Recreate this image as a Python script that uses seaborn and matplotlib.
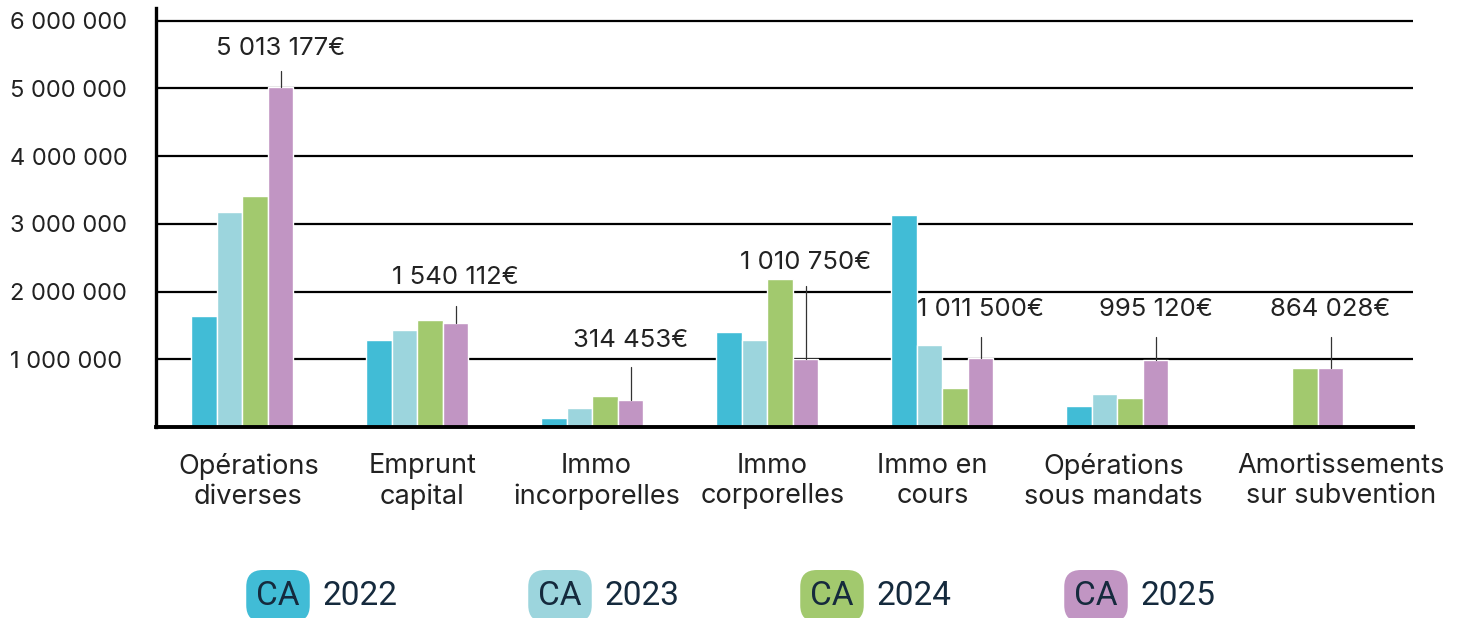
import numpy as np
import pandas as pd
import matplotlib
matplotlib.use("Agg")
import matplotlib.pyplot as plt
import matplotlib.transforms as mtransforms
import seaborn as sns

# ---------------- data ----------------
categories = ["Opérations\ndiverses", "Emprunt\ncapital", "Immo\nincorporelles",
              "Immo\ncorporelles", "Immo en\ncours", "Opérations\nsous mandats",
              "Amortissements\nsur subvention"]
years = ["2022", "2023", "2024", "2025"]
ca_2022 = [1640000, 1285000, 135000, 1400000, 3130000, 310000, 0]
ca_2023 = [3170000, 1430000, 280000, 1280000, 1210000, 487000, 0]
ca_2024 = [3410000, 1580000, 455000, 2180000, 575000, 430000, 864028]
ca_2025 = [5013177, 1540112, 400000, 1010750, 1011500, 995120, 864028]
labels_2025 = ["5 013 177€", "1 540 112€", "314 453€", "1 010 750€",
               "1 011 500€", "995 120€", "864 028€"]
yticks = [1000000, 2000000, 3000000, 4000000, 5000000, 6000000]

# layout for annotations (leader-line top and label centre, in data units)
line_top = [5250000, 1780000, 885000, 2080000, 1330000, 1330000, 1330000]
label_y = [5590000, 2210000, 1280000, 2430000, 1730000, 1730000, 1730000]
# horizontal nudges of the category labels (pixels)
label_shift = [6, 5, 4, 5, -10, -4, 49]

colors = ["#41BCD6", "#9CD5DD", "#A2C96E", "#C195C3"]
text_dark = "#152A3D"

df = pd.DataFrame({
    "cat": categories * 4,
    "year": sum([[y] * len(categories) for y in years], []),
    "val": ca_2022 + ca_2023 + ca_2024 + ca_2025,
})

sns.set_theme(style="white")
plt.rcParams["font.family"] = ["Inter", "DejaVu Sans"]

fig = plt.figure(figsize=(14.62, 6.18), dpi=100)
ax = fig.add_axes([156 / 1462, 1 - 427 / 618, (1413 - 156) / 1462, (427 - 8) / 618])

sns.barplot(data=df, x="cat", y="val", hue="year", order=categories,
            hue_order=years, palette=colors, width=0.583, dodge=True,
            edgecolor="white", linewidth=1.0, legend=False, ax=ax,
            saturation=1, errorbar=None, zorder=3)

ax.set_xlim(-0.494, 6.689)
ax.set_ylim(0, 6185000)
ax.set_yticks(yticks)
ax.set_yticklabels([f"{v:,}".replace(",", " ") for v in yticks])
ax.set_xlabel("")
ax.set_ylabel("")

for y in yticks:
    ax.axhline(y, color="black", lw=1.6, zorder=1)

for s in ["top", "right"]:
    ax.spines[s].set_visible(False)
ax.spines["left"].set_linewidth(2.4)
ax.spines["bottom"].set_linewidth(2.8)
ax.spines["left"].set_color("black")
ax.spines["bottom"].set_color("black")
ax.spines["left"].set_zorder(5)
ax.spines["bottom"].set_zorder(5)

ax.tick_params(axis="y", length=0, pad=105, labelsize=17, labelcolor="#222222")
for t in ax.get_yticklabels():
    t.set_horizontalalignment("left")
ax.tick_params(axis="x", length=0, pad=19, labelsize=19.5, labelcolor="#222222")
for t, dx in zip(ax.get_xticklabels(), label_shift):
    t.set_linespacing(1.2)
    t.set_transform(t.get_transform() +
                    mtransforms.ScaledTranslation(dx / 100, 0, fig.dpi_scale_trans))

# annotations on 2025 bars
purple = ax.containers[3]
for i, p in enumerate(purple.patches):
    xc = p.get_x() + p.get_width() / 2
    top = p.get_height()
    ax.plot([xc, xc], [top, line_top[i]], color="#333333", lw=0.9, zorder=4)
    ax.text(xc, label_y[i], labels_2025[i], ha="center", va="center",
            fontsize=18.5, color="#222222", zorder=6)

# custom legend
box_x = [278, 560, 832, 1096]
year_x = [322, 604, 876, 1140]
for bx, yx, c, yr in zip(box_x, year_x, colors, years):
    fig.text(bx / 1462, 1 - 596 / 618, "CA", ha="center", va="center",
             fontsize=24, color=text_dark, family=["Roboto", "DejaVu Sans"],
             bbox=dict(boxstyle="round,pad=0.3,rounding_size=0.5", fc=c, ec="none"))
    fig.text(yx / 1462, 1 - 596 / 618, yr, ha="left", va="center",
             fontsize=24, color=text_dark, family=["Roboto", "DejaVu Sans"])

fig.savefig("out.png", dpi=100)
